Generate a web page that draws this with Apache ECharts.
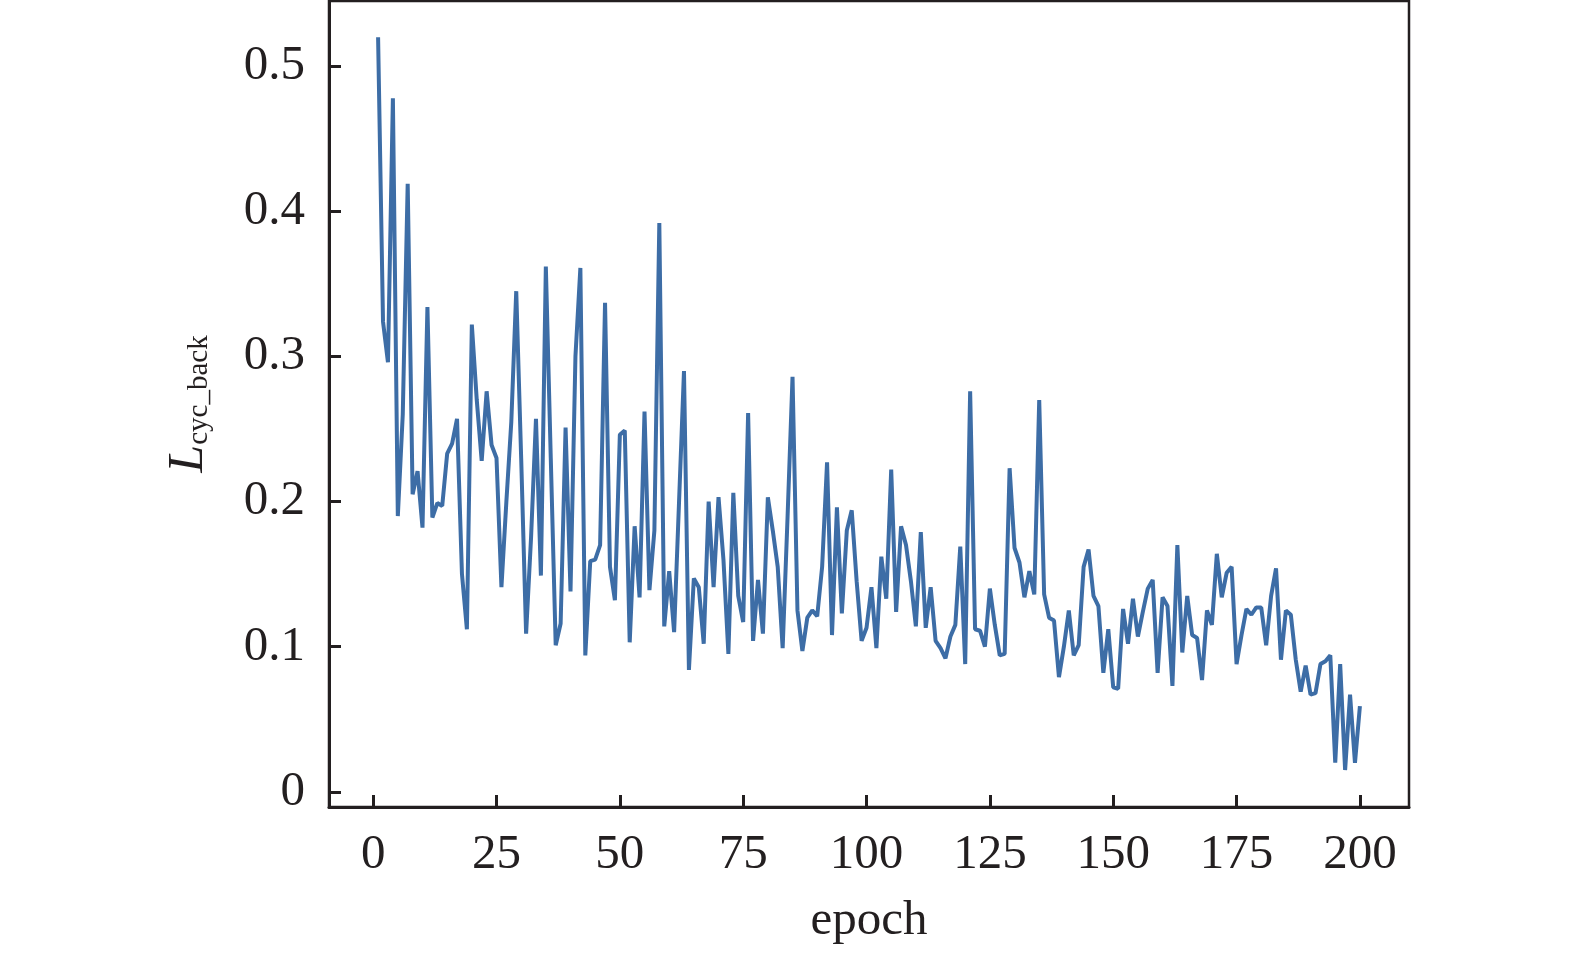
<!DOCTYPE html>
<html>
<head>
<meta charset="utf-8">
<script src="https://cdn.jsdelivr.net/npm/echarts@6/dist/echarts.min.js"></script>
<style>
html,body{margin:0;padding:0;background:#fff;}
#chart{width:1575px;height:953px;}
</style>
</head>
<body>
<div id="chart"></div>
<script>
// L_cyc_back per epoch (epoch 1..200)
const lossCycBack = [
  0.52, 0.324, 0.296, 0.478, 0.19, 0.26, 0.419, 0.205, 0.221, 0.182,
  0.334, 0.189, 0.199, 0.197, 0.233, 0.24, 0.257, 0.15, 0.112, 0.322,
  0.27, 0.228, 0.276, 0.239, 0.23, 0.141, 0.2, 0.255, 0.345, 0.23,
  0.109, 0.175, 0.257, 0.149, 0.362, 0.23, 0.101, 0.116, 0.251, 0.138,
  0.3, 0.361, 0.094, 0.159, 0.16, 0.17, 0.337, 0.155, 0.132, 0.246,
  0.249, 0.103, 0.183, 0.134, 0.262, 0.139, 0.18, 0.392, 0.114, 0.152,
  0.11, 0.2, 0.29, 0.084, 0.147, 0.141, 0.102, 0.2, 0.141, 0.203,
  0.16, 0.095, 0.206, 0.135, 0.117, 0.261, 0.104, 0.146, 0.109, 0.203,
  0.18, 0.155, 0.099, 0.19, 0.286, 0.125, 0.097, 0.12, 0.125, 0.121,
  0.155, 0.227, 0.108, 0.196, 0.123, 0.18, 0.194, 0.145, 0.104, 0.113,
  0.141, 0.099, 0.162, 0.133, 0.222, 0.124, 0.183, 0.17, 0.145, 0.114,
  0.179, 0.113, 0.141, 0.104, 0.099, 0.092, 0.107, 0.115, 0.169, 0.088,
  0.276, 0.112, 0.111, 0.1, 0.14, 0.115, 0.094, 0.095, 0.223, 0.168,
  0.158, 0.134, 0.152, 0.136, 0.27, 0.136, 0.12, 0.118, 0.079, 0.1,
  0.125, 0.094, 0.101, 0.155, 0.167, 0.135, 0.128, 0.082, 0.112, 0.072,
  0.071, 0.126, 0.102, 0.133, 0.107, 0.124, 0.14, 0.146, 0.082, 0.134,
  0.128, 0.073, 0.17, 0.096, 0.135, 0.108, 0.106, 0.077, 0.125, 0.115,
  0.164, 0.134, 0.151, 0.155, 0.088, 0.108, 0.126, 0.122, 0.127, 0.127,
  0.101, 0.135, 0.154, 0.091, 0.125, 0.122, 0.091, 0.069, 0.087, 0.067,
  0.068, 0.088, 0.09, 0.094, 0.02, 0.088, 0.015, 0.067, 0.02, 0.059
];
const firstEpoch = 1;
const xTicks = [0, 25, 50, 75, 100, 125, 150, 175, 200];
const yTicks = [0, 0.1, 0.2, 0.3, 0.4, 0.5];
const xName = 'epoch';
const yNameMain = 'L';
const yNameSub = 'cyc_back';

const seriesData = lossCycBack.map((v, i) => [firstEpoch + i, v]);

const ink = '#231f20';
const font = 'Liberation Serif';

const chart = echarts.init(document.getElementById('chart'), null, {renderer: 'canvas'});
chart.setOption({
  animation: false,
  backgroundColor: '#fff',
  grid: {
    left: 329, right: 166, top: 1, bottom: 146,
    show: true, borderColor: ink, borderWidth: 2.5, backgroundColor: 'transparent'
  },
  xAxis: {
    type: 'value',
    min: -8.95, max: 209.95,
    name: xName,
    nameLocation: 'middle',
    nameGap: 90,
    nameTextStyle: {fontFamily: font, fontSize: 49, color: ink},
    axisLine: {show: true, onZero: false, lineStyle: {color: ink, width: 3}},
    axisTick: {show: true, inside: true, length: 12, customValues: xTicks, lineStyle: {color: ink, width: 3}},
    axisLabel: {show: true, customValues: xTicks, margin: 24, fontFamily: font, fontSize: 49, color: ink},
    splitLine: {show: false}
  },
  yAxis: {
    type: 'value',
    min: -0.0105, max: 0.545,
    name: '{l|' + yNameMain + '}{s|' + yNameSub + '}',
    nameLocation: 'middle',
    nameRotate: 90,
    nameGap: 112,
    nameTextStyle: {
      fontFamily: font, color: ink,
      rich: {
        l: {fontFamily: font, fontSize: 50, fontStyle: 'italic', color: ink, lineHeight: 56},
        s: {fontFamily: font, fontSize: 29, color: ink, padding: [20, 0, 0, 0], lineHeight: 56}
      }
    },
    axisLine: {show: true, onZero: false, lineStyle: {color: ink, width: 3}},
    axisTick: {show: true, inside: true, length: 12, customValues: yTicks, lineStyle: {color: ink, width: 3}},
    axisLabel: {show: true, customValues: yTicks, margin: 24, fontFamily: font, fontSize: 49, color: ink,
      formatter: v => (Math.round(v * 10) / 10).toString()},
    splitLine: {show: false}
  },
  series: [{
    type: 'line',
    data: seriesData,
    showSymbol: false,
    symbol: 'none',
    lineStyle: {color: '#3d6da6', width: 4},
    clip: true
  }]
});
</script>
</body>
</html>
